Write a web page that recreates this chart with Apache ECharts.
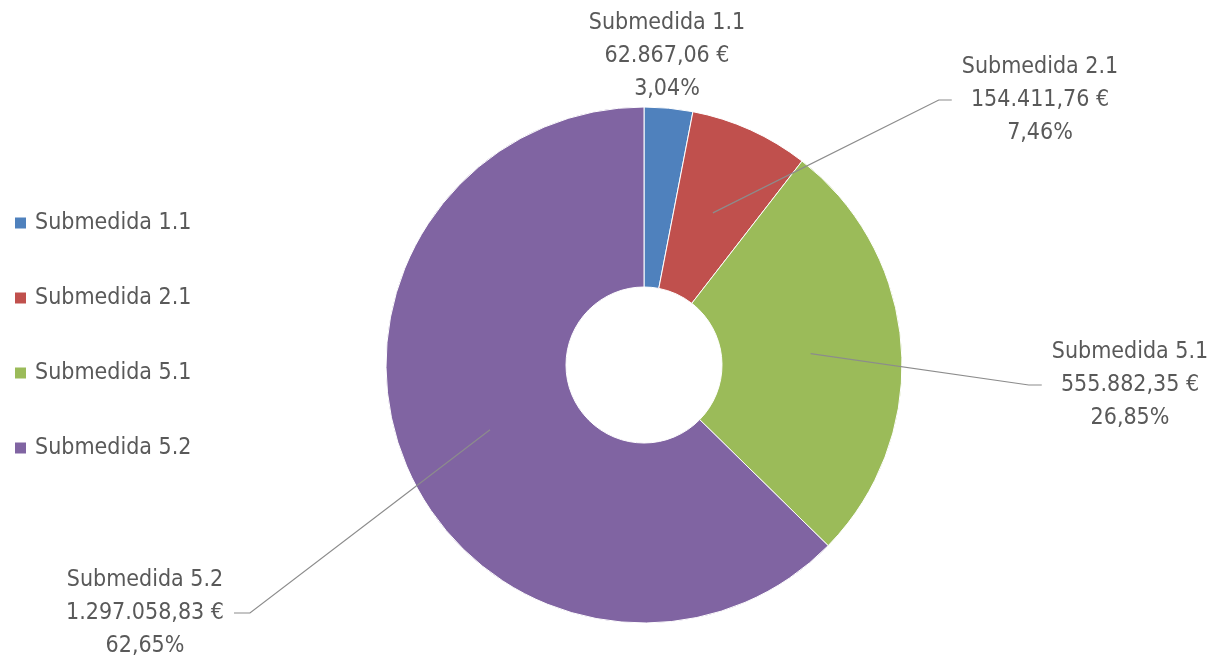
<!DOCTYPE html>
<html>
<head>
<meta charset="utf-8">
<script src="https://cdn.jsdelivr.net/npm/echarts@6/dist/echarts.min.js"></script>
<style>html,body{margin:0;padding:0;background:#fff;}#c{width:1222px;height:662px;}</style>
</head>
<body>
<div id="c"></div>
<script>
// ---- data ----
var categories = ['Submedida 1.1', 'Submedida 2.1', 'Submedida 5.1', 'Submedida 5.2'];
var amounts = [62867.06, 154411.76, 555882.35, 1297058.83];

// ---- style / layout ----
var colors = ['#4F81BD', '#C0504D', '#9BBB59', '#8064A2'];
var labelAnchors = [[667, 56], [1040, 100], [1130, 385], [145, 613]]; // label centres (px)
var labelSide = ['none', 'right', 'right', 'left'];
var FONT = 'DejaVu Sans Condensed';
var FS = 23;
var TXT = '#595959';

function fmtNum(v) {
  var parts = v.toFixed(2).split('.');
  parts[0] = parts[0].replace(/\B(?=(\d{3})+(?!\d))/g, '.');
  return parts[0] + ',' + parts[1];
}

var pieData = categories.map(function (c, i) {
  return { name: c, value: amounts[i], itemStyle: { color: colors[i] } };
});
var overlayData = categories.map(function (c, i) {
  return { name: c, value: amounts[i], labelLine: { show: i !== 0 } };
});

var chart = echarts.init(document.getElementById('c'), null, { renderer: 'canvas' });
chart.setOption({
  backgroundColor: '#fff',
  animation: false,
  legend: {
    orient: 'vertical',
    left: 8,
    top: 203,
    itemGap: 45,
    itemWidth: 13,
    itemHeight: 13,
    icon: 'rect',
    data: categories,
    textStyle: { color: TXT, fontFamily: FONT, fontSize: FS, lineHeight: 30, padding: [0, 0, 0, 3] }
  },
  series: [
    {
      type: 'pie',
      z: 2,
      center: [644, 365],
      radius: [78, 258],
      startAngle: 90,
      clockwise: true,
      silent: true,
      label: { show: false },
      labelLine: { show: false },
      itemStyle: { borderColor: '#ffffff', borderWidth: 1 },
      data: pieData
    },
    {
      type: 'pie',
      z: 5,
      center: [644, 365],
      radius: [0, 167],
      startAngle: 90,
      clockwise: true,
      silent: true,
      avoidLabelOverlap: false,
      itemStyle: { color: 'rgba(0,0,0,0)', borderWidth: 0 },
      label: {
        show: true,
        position: 'outside',
        color: TXT,
        fontFamily: FONT,
        fontSize: FS,
        lineHeight: 33,
        align: 'center',
        formatter: function (p) {
          return p.name + '\n' + fmtNum(p.value) + ' €\n' + p.percent.toFixed(2).replace('.', ',') + '%';
        }
      },
      labelLine: { show: true, length: 10, length2: 10, lineStyle: { color: '#8c8c8c', width: 1.2 } },
      labelLayout: function (params) {
        var i = params.dataIndex;
        var a = labelAnchors[i];
        var w = params.labelRect.width;
        var out = { x: a[0], y: a[1], align: 'center', verticalAlign: 'middle' };
        var pts = params.labelLinePoints;
        if (pts && labelSide[i] !== 'none') {
          var start = pts[0];
          var end, bend;
          if (labelSide[i] === 'right') {
            end = [a[0] - w / 2 - 10, a[1]];
            bend = [end[0] - 13, a[1]];
          } else {
            end = [a[0] + w / 2 + 10, a[1]];
            bend = [end[0] + 16, a[1]];
          }
          out.labelLinePoints = [start, bend, end];
        }
        return out;
      },
      data: overlayData
    }
  ]
});
</script>
</body>
</html>
